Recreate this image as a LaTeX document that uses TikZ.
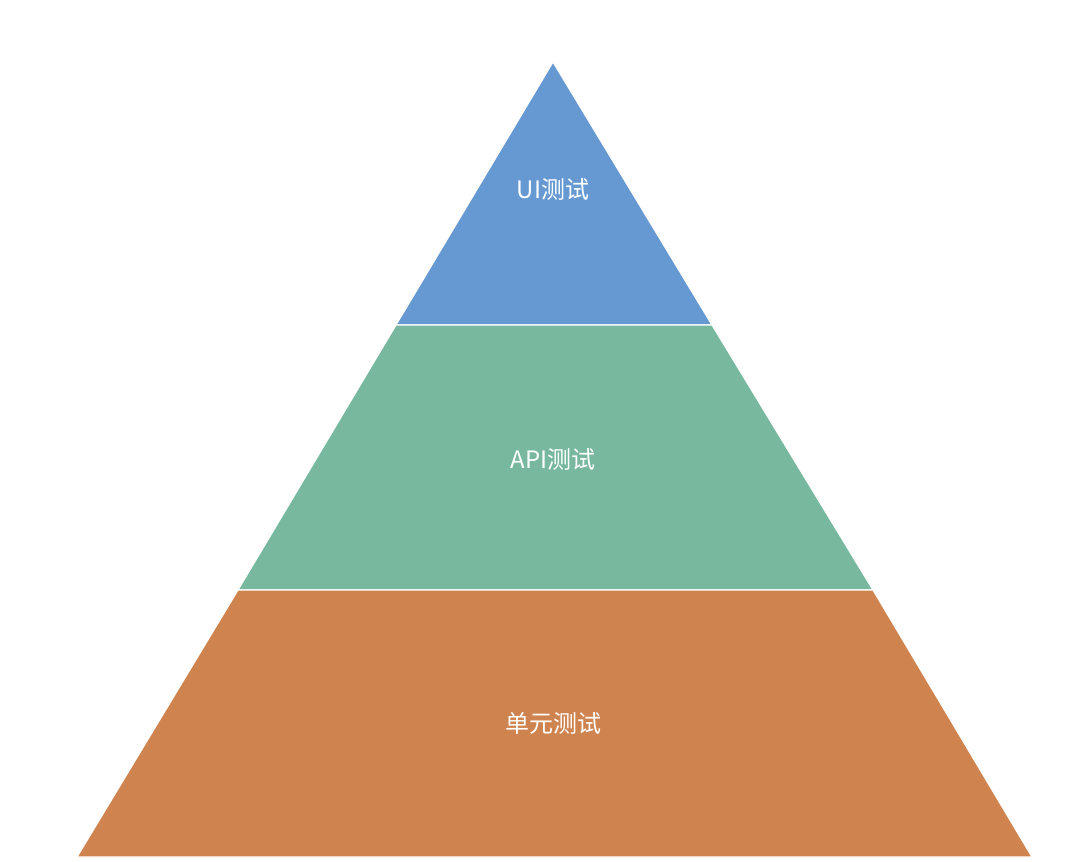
\documentclass[tikz,border=0pt]{standalone}
\usepackage{fontspec}
\newfontfamily\cjk{Noto Sans CJK SC}
\definecolor{uiblue}{HTML}{6699D1}
\definecolor{apigreen}{HTML}{77B89E}
\definecolor{unitorange}{HTML}{CF844F}
\begin{document}
\begin{tikzpicture}[x=1pt, y=-1pt]
    \useasboundingbox (0, 0) rectangle (1080, 862);

    \tikzstyle{layer} = [draw = white, line width = 1.2pt, line join = round]
    \tikzstyle{lbl} = [text = white, font = \cjk\fontsize{24}{28}\selectfont]

    % coordinates of the pyramid
    \coordinate (top) at (553, 62);
    \coordinate (ul) at (396, 325);
    \coordinate (ur) at (712, 325);
    \coordinate (ml) at (238, 590);
    \coordinate (mr) at (873, 590);
    \coordinate (bl) at (77, 857);
    \coordinate (br) at (1032, 857);

    \draw[layer, fill = uiblue] (top) -- (ur) -- (ul) -- cycle;
    \draw[layer, fill = apigreen] (ul) -- (ur) -- (mr) -- (ml) -- cycle;
    \draw[layer, fill = unitorange] (ml) -- (mr) -- (br) -- (bl) -- cycle;

    \node[lbl] (ui) at (553, 189) {UI测试};
    \node[lbl] (api) at (553, 459) {API测试};
    \node[lbl] (unit) at (553, 723) {单元测试};
\end{tikzpicture}
\end{document}
